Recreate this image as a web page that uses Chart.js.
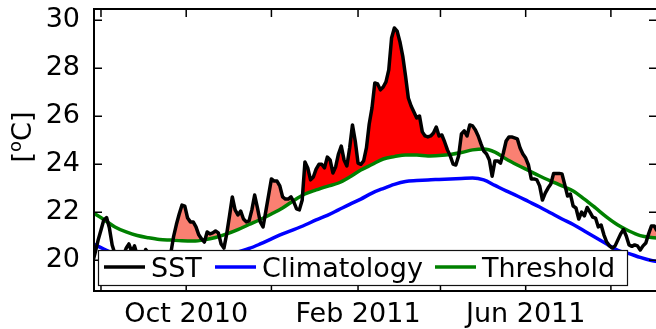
<!DOCTYPE html>
<html>
<head>
<meta charset="utf-8">
<script src="https://cdn.jsdelivr.net/npm/chart.js@4.4.1/dist/chart.umd.min.js"></script>
<style>
  html, body { margin: 0; padding: 0; background: #fff; overflow: hidden; width: 656px; height: 329px; }
  canvas { display: block; }
</style>
</head>
<body>
<canvas id="c" width="662" height="329"></canvas>
<script>
// Sea surface temperature, one value every 2 days starting 26 Jul 2010 [degC]
const sstStart = '2010-07-26';
const sstStepDays = 2;
const sst = [
  19.9, 20.35, 20.85, 21.26, 21.68, 21.78, 21.35, 20.64, 20.26, 19.9,
  20.0, 20.2, 20.5, 20.68, 20.35, 20.6, 20.2, 19.95, 20.1, 20.45,
  20.3, 20.0, 19.8, 19.9, 19.75, 19.9, 19.75, 20.0, 20.3, 21.0,
  21.5, 21.93, 22.3, 22.26, 21.76, 21.6, 21.6, 21.39, 21.06, 20.89,
  20.76, 21.18, 21.1, 21.14, 21.22, 21.14, 20.68, 20.51, 21.1, 21.85,
  22.64, 22.1, 21.89, 22.05, 21.72, 21.6, 21.64, 22.1, 22.72, 22.18,
  21.6, 21.39, 22.05, 22.72, 23.39, 23.3, 23.3, 23.1, 22.64, 22.55,
  22.55, 22.64, 22.43, 22.14, 22.1, 22.5, 24.1, 23.85, 23.35, 23.47,
  23.8, 24.0, 24.0, 23.85, 24.3, 24.18, 23.64, 23.9, 24.43, 24.76,
  24.18, 23.93, 24.68, 25.64, 24.97, 24.05, 24.0, 24.14, 24.68, 25.68,
  26.35, 27.39, 27.35, 27.1, 27.22, 27.43, 27.93, 29.26, 29.68, 29.55,
  29.1, 28.51, 27.68, 26.76, 26.43, 26.18, 25.93, 26.01, 25.35, 25.18,
  25.14, 25.18, 25.3, 25.55, 25.18, 25.22, 24.93, 24.6, 24.35, 24.01,
  23.97, 24.35, 25.26, 25.39, 25.18, 25.64, 25.6, 25.43, 25.18, 24.85,
  24.55, 24.43, 24.18, 23.5, 24.14, 24.14, 24.05, 24.47, 24.97, 25.14,
  25.14, 25.1, 25.06, 24.68, 24.43, 24.26, 23.97, 23.39, 23.39, 23.35,
  23.1, 22.51, 22.8, 23.01, 23.18, 23.62, 23.62, 23.62, 23.6, 23.14,
  22.68, 22.76, 22.26, 22.18, 21.72, 22.01, 21.85, 22.2, 22.01, 21.8,
  21.76, 21.39, 21.47, 21.06, 20.76, 20.6, 20.51, 20.6, 20.85, 21.1,
  21.28, 21.01, 20.64, 20.58, 20.64, 20.6, 20.43, 20.6, 20.72, 21.1,
  21.43, 21.43, 21.22, 21.35
];

// Seasonal climatology and 90th-percentile threshold, every 8 days from 26 Jul 2010
const seasStart = '2010-07-26';
const seasStepDays = 8;
const threshold = [
  21.99, 21.70, 21.39, 21.18, 21.03, 20.94, 20.87, 20.84, 20.81, 20.80,
  20.85, 20.95, 21.10, 21.28, 21.49, 21.70, 21.93, 22.18, 22.49, 22.76,
  22.93, 23.08, 23.22, 23.47, 23.76, 23.99, 24.22, 24.32, 24.39, 24.39,
  24.35, 24.37, 24.41, 24.49, 24.60, 24.64, 24.51, 24.22, 23.97, 23.74,
  23.51, 23.30, 23.10, 22.89, 22.55, 22.18, 21.80, 21.47, 21.22, 21.03,
  20.95, 20.91
];
const climatology = [
  20.70, 20.47, 20.26, 20.07, 19.93, 19.82, 19.76, 19.74, 19.76, 19.82,
  19.93, 20.05, 20.20, 20.35, 20.49, 20.68, 20.89, 21.10, 21.28, 21.47,
  21.68, 21.87, 22.10, 22.33, 22.55, 22.80, 22.99, 23.16, 23.28, 23.32,
  23.35, 23.37, 23.39, 23.41, 23.43, 23.35, 23.12, 22.89, 22.68, 22.45,
  22.22, 21.97, 21.72, 21.49, 21.22, 20.95, 20.68, 20.41, 20.28, 20.12,
  19.99, 19.91
];

// Heatwave periods: the largest event is shaded red, the others salmon
const mainEvent = ['2010-12-21', '2011-04-10'];
const otherEventsFrom = '2010-09-16';

// Axes
const xRange = ['2010-07-27', '2011-09-03'];
const yRange = [18.72, 30.47];
const tickDates = ['2010-08-01', '2010-10-01', '2010-12-01', '2011-02-01', '2011-04-01', '2011-06-01', '2011-08-01'];
const tickLabels = ['', 'Oct 2010', '', 'Feb 2011', '', 'Jun 2011', ''];
const yTicks = [20, 22, 24, 26, 28, 30];
const legendItems = [
  { label: 'SST', color: '#000000' },
  { label: 'Climatology', color: '#0000ff' },
  { label: 'Threshold', color: '#008000' }
];

const ORIGIN = Date.UTC(2010, 7, 1);
const dayOf = s => (Date.parse(s) - ORIGIN) / 864e5;

const series = (start, step, values) =>
  values.map((v, i) => ({ x: dayOf(start) + i * step, y: v }));

const sstPts = series(sstStart, sstStepDays, sst);
const threshPts = series(seasStart, seasStepDays, threshold);
const climPts = series(seasStart, seasStepDays, climatology);
const mainPts = sstPts.filter(p => p.x >= dayOf(mainEvent[0]) && p.x <= dayOf(mainEvent[1]));
const otherPts = sstPts.filter(p => p.x >= dayOf(otherEventsFrom));

Chart.defaults.font.family = '"DejaVu Sans"';
Chart.defaults.font.size = 27;
Chart.defaults.color = '#000';

const FONT = '27px "DejaVu Sans"';

// Keep the plot box exactly where the layout padding puts it
const noLabelPadding = s => {
  s.paddingTop = 0; s.paddingBottom = 0; s.paddingLeft = 0; s.paddingRight = 0;
};

// Box frame with inward ticks, the legend and the rotated unit label
const framePlugin = {
  id: 'frame',
  afterDraw(chart) {
    const { ctx, chartArea: a, scales } = chart;
    ctx.save();
    ctx.strokeStyle = '#000';
    ctx.lineWidth = 1.5;
    ctx.beginPath();
    tickDates.forEach(d => {
      const x = scales.x.getPixelForValue(dayOf(d));
      ctx.moveTo(x, a.bottom); ctx.lineTo(x, a.bottom - 8);
      ctx.moveTo(x, a.top); ctx.lineTo(x, a.top + 8);
    });
    yTicks.forEach(v => {
      const y = scales.y.getPixelForValue(v);
      ctx.moveTo(a.left, y); ctx.lineTo(a.left + 8, y);
      ctx.moveTo(a.right, y); ctx.lineTo(a.right - 8, y);
    });
    ctx.stroke();
    ctx.lineWidth = 2;
    ctx.strokeRect(a.left, a.top, a.right - a.left, a.bottom - a.top);

    // legend
    const lx = 98, ly = 250, lw = 529, lh = 35;
    ctx.fillStyle = '#fff';
    ctx.fillRect(lx, ly, lw, lh);
    ctx.lineWidth = 1.2;
    ctx.strokeStyle = '#111';
    ctx.strokeRect(lx + 0.5, ly + 0.5, lw, lh);
    const lineX = [104, 215, 435];
    ctx.font = FONT;
    ctx.textBaseline = 'alphabetic';
    ctx.textAlign = 'left';
    legendItems.forEach((it, i) => {
      ctx.strokeStyle = it.color;
      ctx.lineWidth = 3.5;
      ctx.beginPath();
      ctx.moveTo(lineX[i], 267);
      ctx.lineTo(lineX[i] + 41, 267);
      ctx.stroke();
      ctx.fillStyle = '#000';
      ctx.fillText(it.label, lineX[i] + 47, 277);
    });

    // y axis unit label [°C] with a raised o
    ctx.translate(31, 137);
    ctx.rotate(-Math.PI / 2);
    const small = '18px "DejaVu Sans"';
    ctx.font = FONT;
    const w1 = ctx.measureText('[').width;
    const w3 = ctx.measureText('C]').width;
    ctx.font = small;
    const w2 = ctx.measureText('o').width;
    const x0 = -(w1 + w2 + w3) / 2;
    ctx.fillStyle = '#000';
    ctx.font = FONT;
    ctx.fillText('[', x0, 0);
    ctx.font = small;
    ctx.fillText('o', x0 + w1, -10);
    ctx.font = FONT;
    ctx.fillText('C]', x0 + w1 + w2, 0);
    ctx.restore();
  }
};

new Chart(document.getElementById('c'), {
  type: 'line',
  data: {
    datasets: [
      { label: 'SST', data: sstPts, borderColor: '#000', borderWidth: 3.5, pointRadius: 0,
        tension: 0, fill: false, borderJoinStyle: 'round' },
      { label: 'Climatology', data: climPts, borderColor: '#0000ff', borderWidth: 3.5, pointRadius: 0,
        cubicInterpolationMode: 'monotone', fill: false },
      { label: 'Threshold', data: threshPts, borderColor: '#008000', borderWidth: 3.5, pointRadius: 0,
        cubicInterpolationMode: 'monotone', fill: false },
      { label: 'main event', data: mainPts, borderWidth: 0, borderColor: 'rgba(0,0,0,0)', pointRadius: 0,
        fill: { target: 2, above: '#ff0000', below: 'rgba(0,0,0,0)' } },
      { label: 'other events', data: otherPts, borderWidth: 0, borderColor: 'rgba(0,0,0,0)', pointRadius: 0,
        fill: { target: 2, above: '#fa8072', below: 'rgba(0,0,0,0)' } }
    ]
  },
  options: {
    responsive: false,
    animation: false,
    devicePixelRatio: 1,
    layout: { padding: { left: 0, right: 5, top: 9, bottom: 0 } },
    plugins: { legend: { display: false }, tooltip: { enabled: false } },
    scales: {
      x: {
        type: 'linear',
        min: dayOf(xRange[0]),
        max: dayOf(xRange[1]),
        grid: { display: false },
        border: { display: false },
        afterFit: s => { s.height = 38; noLabelPadding(s); },
        afterBuildTicks: s => { s.ticks = tickDates.map(d => ({ value: dayOf(d) })); },
        ticks: { autoSkip: false, maxRotation: 0, padding: 0, color: '#000',
                 callback: (v, i) => tickLabels[i] }
      },
      y: {
        min: yRange[0],
        max: yRange[1],
        grid: { display: false },
        border: { display: false },
        afterFit: s => { s.width = 94; noLabelPadding(s); },
        afterBuildTicks: s => { s.ticks = yTicks.map(v => ({ value: v })); },
        ticks: { padding: 6, color: '#000', callback: v => String(v) }
      }
    }
  },
  plugins: [framePlugin]
});
</script>
</body>
</html>
